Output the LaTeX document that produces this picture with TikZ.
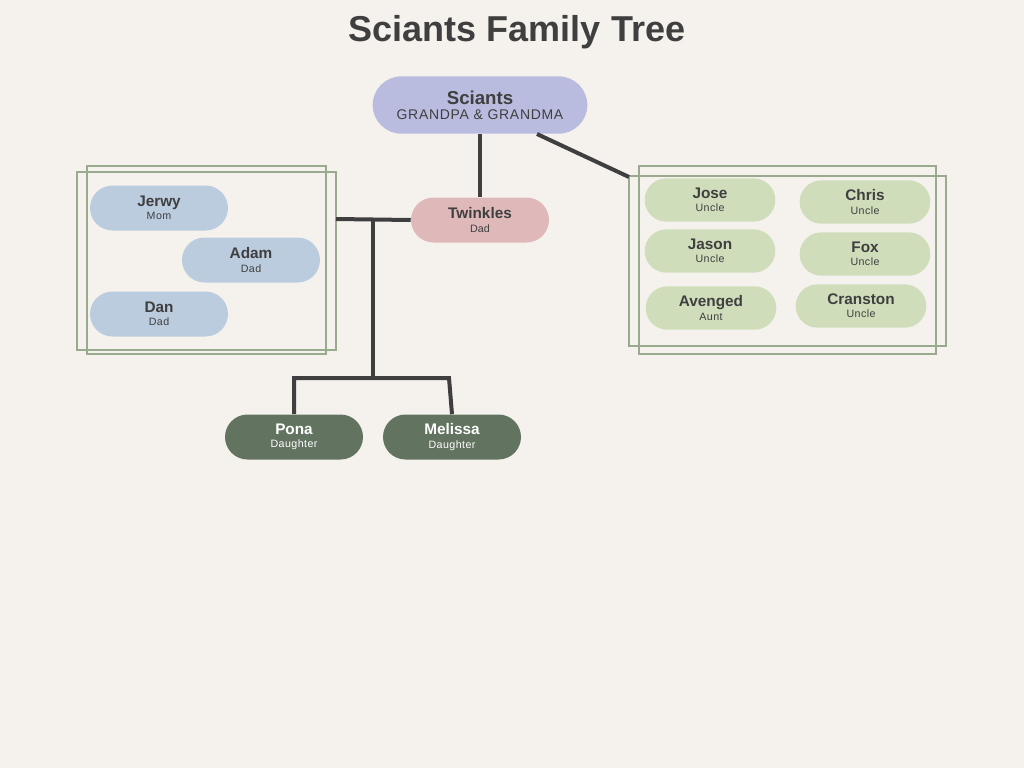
\documentclass[tikz,border=0pt]{standalone}
\usepackage{fontspec}
\setmainfont{Liberation Sans}
\definecolor{bg}{HTML}{F5F2EE}
\definecolor{cs}{HTML}{BABCDF}
\definecolor{ct}{HTML}{DFB9B9}
\definecolor{cb}{HTML}{BCCCDF}
\definecolor{cg}{HTML}{CFDDBB}
\definecolor{cd}{HTML}{627360}
\definecolor{fr}{HTML}{9AAA8F}
\definecolor{ink}{HTML}{3F3F3F}
\begin{document}
\begin{tikzpicture}[x=0.75pt,y=-0.75pt,
  pill/.style={rounded rectangle,minimum width=103.5pt,minimum height=33.75pt,inner sep=0pt,align=center,text=ink},
  pg/.style={pill,fill=cg,minimum width=98pt,minimum height=32.5pt},
  nm/.style={font=\bfseries\fontsize{11.5}{12}\selectfont},
  sb/.style={font=\fontsize{8}{9}\selectfont},
  ln/.style={draw=ink,line width=3pt},
  fr/.style={draw=fr,line width=0.8pt}]
\usetikzlibrary{shapes.misc}
\fill[bg] (0,0) rectangle (1024,768);
\useasboundingbox (0,0) rectangle (1024,768);
\node[text=ink,font=\bfseries\fontsize{27}{30}\selectfont] (title) at (517,32) {Sciants Family Tree};
% frames
\draw[fr] (77,172) rectangle (336,350);
\draw[fr] (87,166) rectangle (326,354);
\draw[fr] (629,176) rectangle (946,346);
\draw[fr] (639,166) rectangle (936,354);
\coordinate (rb) at (629,177);
\coordinate (lb) at (336,219);
\coordinate (j1) at (373,219);
\coordinate (j2) at (373,378);
\coordinate (pl) at (293,378);
\coordinate (ml) at (449,378);
\node[pill,fill=cs,minimum width=161pt,minimum height=43pt] (s) at (480,105) {{\bfseries\fontsize{14}{16}\selectfont Sciants}\\[-1pt]{\fontsize{10.5}{12}\selectfont\addfontfeature{LetterSpace=5}GRANDPA \& GRANDMA}};
\node[pill,fill=ct] (t) at (480,220) {{\bfseries\fontsize{11.5}{13}\selectfont Twinkles}\\[-2pt]{\fontsize{8}{9}\selectfont Dad}};
\newcommand{\pp}[2]{{\bfseries\fontsize{11.5}{13}\selectfont #1}\\[-2pt]{\fontsize{8}{9}\selectfont\addfontfeature{LetterSpace=4}#2}}
\node[pill,fill=cb] (jerwy) at (159,208) {\pp{Jerwy}{Mom}};
\node[pill,fill=cb] (adam) at (251,260) {\pp{Adam}{Dad}};
\node[pill,fill=cb] (dan) at (159,314) {\pp{Dan}{Dad}};
\node[pg] (jose) at (710,200) {\pp{Jose}{Uncle}};
\node[pg] (chris) at (865,202) {\pp{Chris}{Uncle}};
\node[pg] (jason) at (710,251) {\pp{Jason}{Uncle}};
\node[pg] (fox) at (865,254) {\pp{Fox}{Uncle}};
\node[pg] (avenged) at (711,308) {\pp{Avenged}{Aunt}};
\node[pg] (cranston) at (861,306) {\pp{Cranston}{Uncle}};
\node[pill,fill=cd,text=white] (pona) at (294,437) {\pp{Pona}{Daughter}};
\node[pill,fill=cd,text=white] (melissa) at (452,437) {\pp{Melissa}{Daughter}};
\draw[ln] (s.south) -- (t.north);
\draw[ln] (537,134) -- (rb);
\draw[ln] (lb) -- (t.west);
\draw[ln] (j1) -- (j2);
\draw[ln] (pona.north) |- (ml) -- (melissa.north);
\end{tikzpicture}
\end{document}
